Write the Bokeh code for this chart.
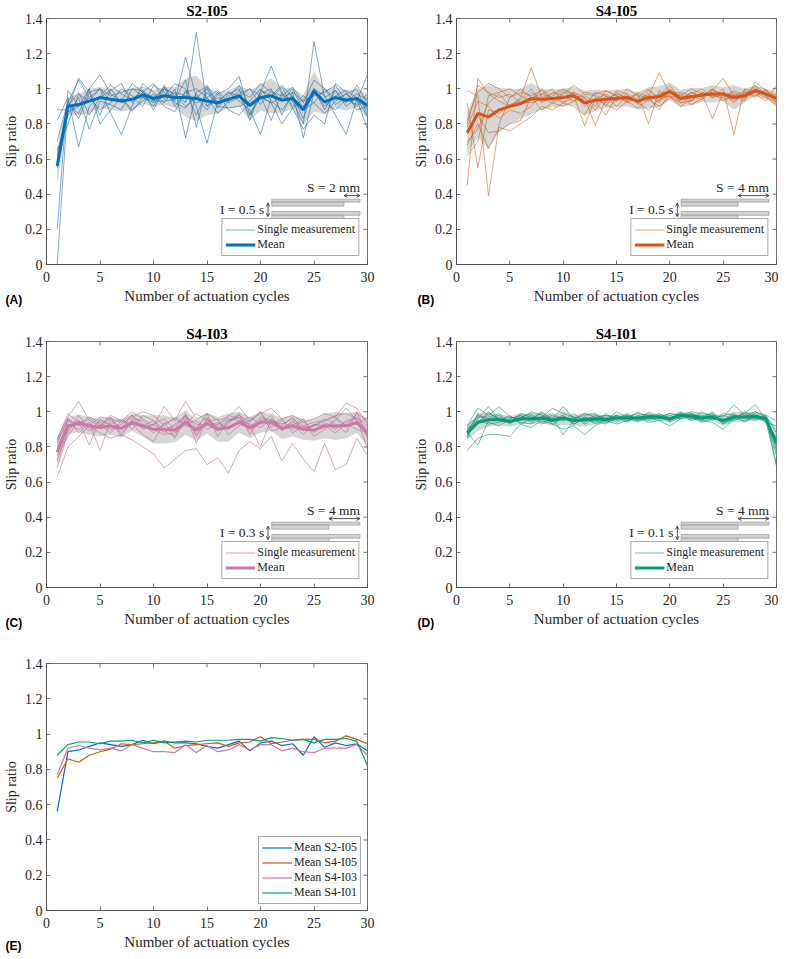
import numpy as np
from bokeh.plotting import figure
from bokeh.layouts import column, row
from bokeh.models import (Range1d, FixedTicker, PrintfTickFormatter, Title,
                          Legend, LegendItem, Label, Arrow, OpenHead)
from bokeh.embed import file_html
from bokeh.resources import INLINE

# ---------------- data ----------------
cycles = list(range(1, 31))
x_ticks = [0, 5, 10, 15, 20, 25, 30]
y_ticks = [0, 0.2, 0.4, 0.6, 0.8, 1.0, 1.2, 1.4]

titles = ["S2-I05", "S4-I05", "S4-I03", "S4-I01"]
letters = ["(A)", "(B)", "(C)", "(D)", "(E)"]
s_labels = ["S = 2 mm", "S = 4 mm", "S = 4 mm", "S = 4 mm"]
i_labels = ["I = 0.5 s", "I = 0.5 s", "I = 0.3 s", "I = 0.1 s"]
legend_single = "Single measurement"
legend_mean = "Mean"
mean_legends = ["Mean S2-I05", "Mean S4-I05", "Mean S4-I03", "Mean S4-I01"]

mean_s2_i05 = [0.56, 0.90, 0.91, 0.93, 0.95, 0.94, 0.93, 0.94, 0.965, 0.945, 0.96, 0.95, 0.95, 0.945, 0.93,
               0.92, 0.94, 0.96, 0.905, 0.95, 0.96, 0.935, 0.945, 0.88, 0.985, 0.925, 0.95, 0.935, 0.945, 0.905]
mean_s4_i05 = [0.75, 0.86, 0.84, 0.88, 0.90, 0.915, 0.945, 0.94, 0.945, 0.95, 0.96, 0.92, 0.935, 0.94, 0.945,
               0.95, 0.93, 0.95, 0.955, 0.985, 0.945, 0.955, 0.965, 0.97, 0.97, 0.95, 0.96, 0.99, 0.97, 0.945]
mean_s4_i03 = [0.77, 0.92, 0.935, 0.92, 0.91, 0.92, 0.905, 0.94, 0.92, 0.90, 0.90, 0.895, 0.94, 0.895, 0.935,
               0.90, 0.91, 0.94, 0.91, 0.94, 0.94, 0.905, 0.92, 0.90, 0.895, 0.92, 0.92, 0.92, 0.94, 0.88]
mean_s4_i01 = [0.88, 0.94, 0.955, 0.955, 0.945, 0.96, 0.96, 0.965, 0.95, 0.965, 0.95, 0.955, 0.96, 0.955, 0.965,
               0.965, 0.965, 0.97, 0.97, 0.96, 0.98, 0.975, 0.965, 0.97, 0.95, 0.97, 0.97, 0.975, 0.96, 0.82]

sd_s2_i05 = [0.10, 0.05, 0.06, 0.07, 0.06, 0.06, 0.06, 0.06, 0.05, 0.05, 0.05, 0.06, 0.11, 0.13, 0.08,
             0.06, 0.05, 0.06, 0.085, 0.075, 0.10, 0.07, 0.06, 0.085, 0.115, 0.07, 0.06, 0.06, 0.05, 0.07]
sd_s4_i05 = [0.12, 0.14, 0.18, 0.125, 0.10, 0.085, 0.09, 0.06, 0.05, 0.05, 0.05, 0.07, 0.06, 0.05, 0.05,
             0.05, 0.05, 0.06, 0.06, 0.05, 0.05, 0.05, 0.04, 0.05, 0.04, 0.07, 0.04, 0.03, 0.03, 0.04]
sd_s4_i03 = [0.08, 0.05, 0.05, 0.05, 0.05, 0.05, 0.05, 0.05, 0.06, 0.08, 0.08, 0.07, 0.07, 0.06, 0.06,
             0.07, 0.08, 0.06, 0.06, 0.06, 0.05, 0.06, 0.06, 0.06, 0.06, 0.07, 0.08, 0.07, 0.06, 0.08]
sd_s4_i01 = [0.04, 0.05, 0.04, 0.03, 0.03, 0.03, 0.03, 0.03, 0.03, 0.04, 0.03, 0.04, 0.03, 0.02, 0.02,
             0.02, 0.02, 0.02, 0.02, 0.02, 0.02, 0.02, 0.02, 0.02, 0.03, 0.03, 0.03, 0.02, 0.02, 0.07]

singles_s2_i05 = [
    [0.00, 0.92, 1.05, 0.95, 0.88, 0.92, 1.00, 0.96, 0.90, 1.02, 0.98, 0.93, 1.18, 0.95, 0.88, 0.97, 1.00, 1.07, 0.85, 0.98, 1.13, 0.97, 0.93, 0.80, 1.27, 0.95, 0.99, 0.92, 1.02, 0.92],
    [0.20, 0.99, 0.90, 1.00, 1.08, 0.97, 0.93, 1.03, 0.98, 0.95, 1.00, 0.97, 0.92, 1.32, 0.90, 0.95, 0.93, 0.99, 0.95, 1.03, 0.98, 0.96, 1.01, 0.92, 1.05, 1.00, 0.94, 0.97, 0.93, 1.08],
    [0.88, 0.88, 1.06, 0.98, 1.00, 0.86, 0.74, 0.90, 1.03, 0.98, 0.92, 1.00, 0.72, 0.98, 1.01, 0.91, 0.95, 1.02, 0.90, 0.97, 1.00, 0.85, 0.98, 0.72, 0.98, 0.90, 0.96, 0.99, 0.95, 0.88],
    [0.82, 0.95, 0.67, 0.90, 0.96, 1.02, 0.97, 0.94, 0.95, 0.92, 0.96, 1.03, 1.00, 0.90, 0.69, 0.93, 0.98, 0.93, 0.88, 0.74, 0.95, 1.01, 0.90, 0.96, 0.92, 0.86, 0.93, 0.97, 1.00, 0.85],
    [0.55, 0.90, 0.98, 0.85, 0.95, 0.99, 1.03, 0.92, 0.98, 1.03, 0.94, 0.98, 0.96, 0.92, 0.95, 0.99, 0.92, 0.95, 1.00, 0.96, 0.92, 0.95, 0.98, 0.93, 0.96, 0.98, 1.02, 0.93, 0.97, 0.94],
    [0.60, 0.85, 0.95, 0.77, 0.93, 0.91, 0.88, 1.00, 0.96, 0.90, 1.02, 0.90, 0.98, 1.00, 0.95, 0.86, 0.93, 0.97, 1.00, 0.91, 0.99, 0.93, 1.00, 0.88, 0.92, 1.00, 0.91, 0.95, 0.90, 0.95],
    [0.62, 0.91, 0.86, 1.00, 0.80, 0.88, 0.95, 0.88, 0.93, 0.97, 0.90, 0.87, 0.99, 0.85, 0.98, 0.90, 0.89, 0.90, 0.93, 1.00, 0.93, 0.88, 0.96, 0.83, 1.00, 0.88, 0.99, 0.90, 0.95, 0.84],
    [0.65, 0.80, 0.97, 0.93, 1.00, 0.96, 0.98, 1.00, 0.99, 0.93, 1.01, 0.96, 0.90, 0.95, 1.00, 0.89, 0.97, 1.00, 0.82, 0.99, 0.96, 1.02, 0.95, 0.90, 1.00, 0.92, 0.88, 0.94, 0.91, 0.97],
    [0.70, 0.93, 0.83, 0.98, 0.85, 1.00, 0.92, 0.94, 0.99, 0.88, 1.00, 0.92, 0.89, 0.97, 0.90, 0.98, 0.88, 0.85, 0.92, 0.96, 0.82, 0.98, 0.89, 0.94, 1.00, 0.96, 0.85, 0.74, 0.94, 0.77],
    [0.58, 0.87, 0.90, 0.95, 1.00, 0.93, 0.94, 0.87, 0.95, 0.93, 0.93, 0.94, 1.05, 0.78, 1.02, 0.92, 0.98, 0.96, 0.85, 0.95, 0.92, 0.80, 0.89, 0.77, 0.85, 0.80, 1.03, 0.98, 0.88, 0.90],
]
singles_s4_i05 = [
    [0.99, 0.96, 0.39, 0.80, 0.95, 1.00, 0.95, 0.97, 1.00, 0.92, 0.98, 0.95, 0.90, 0.99, 0.96, 0.92, 0.95, 1.00, 0.93, 1.00, 0.95, 0.97, 1.00, 0.95, 1.00, 0.74, 1.00, 0.98, 0.95, 0.93],
    [0.45, 1.06, 0.97, 0.93, 0.90, 0.95, 1.12, 0.95, 0.97, 1.00, 0.97, 0.92, 0.97, 0.92, 0.99, 0.97, 0.92, 0.96, 1.09, 0.97, 0.98, 0.96, 0.94, 0.99, 1.06, 0.96, 0.93, 1.04, 0.99, 0.96],
    [0.62, 0.70, 0.96, 0.98, 1.00, 0.96, 0.93, 1.00, 0.94, 0.98, 0.96, 0.79, 0.94, 0.97, 0.93, 1.00, 0.96, 0.93, 0.96, 1.02, 0.94, 0.98, 0.96, 1.00, 0.96, 0.98, 0.95, 1.00, 0.97, 0.95],
    [0.80, 1.02, 0.98, 0.95, 0.97, 0.92, 0.98, 0.93, 0.98, 0.96, 0.93, 0.95, 0.79, 0.94, 0.97, 0.95, 0.97, 0.80, 0.99, 0.95, 0.97, 0.93, 0.98, 0.95, 0.97, 0.92, 0.98, 0.95, 1.00, 0.92],
    [0.82, 0.98, 1.03, 1.00, 0.95, 0.98, 0.96, 0.99, 0.93, 0.97, 1.02, 0.97, 0.96, 0.90, 0.98, 0.94, 0.93, 0.97, 0.92, 0.99, 0.96, 1.00, 0.97, 0.83, 0.98, 0.96, 0.99, 0.97, 0.93, 1.02],
    [0.68, 0.80, 0.66, 0.78, 0.76, 0.80, 0.84, 0.90, 0.88, 0.92, 0.90, 0.85, 0.95, 0.91, 0.88, 0.93, 0.89, 0.94, 0.90, 0.95, 0.92, 0.95, 0.96, 0.98, 0.93, 0.97, 0.94, 0.99, 0.96, 0.90],
    [0.74, 0.85, 0.75, 0.76, 0.80, 0.82, 0.95, 0.88, 0.92, 0.95, 0.98, 0.93, 0.88, 0.96, 0.90, 0.96, 0.92, 0.88, 0.94, 0.96, 0.90, 0.94, 0.97, 0.96, 0.95, 0.99, 0.96, 0.99, 0.98, 0.94],
    [0.78, 0.93, 0.90, 0.83, 0.88, 0.86, 0.90, 0.97, 0.95, 0.92, 0.95, 0.96, 0.93, 0.85, 0.96, 0.93, 0.98, 0.95, 0.88, 0.98, 0.96, 0.91, 0.94, 0.99, 0.97, 0.93, 0.97, 1.01, 0.96, 0.97],
    [0.70, 0.77, 0.92, 0.97, 0.90, 0.94, 1.00, 0.92, 0.96, 0.99, 0.97, 0.90, 0.98, 0.96, 0.93, 0.97, 0.91, 0.99, 0.95, 0.96, 0.93, 0.98, 0.95, 1.00, 0.94, 0.95, 0.98, 0.96, 0.99, 0.91],
    [0.92, 0.55, 0.88, 0.86, 0.91, 0.93, 0.92, 0.94, 0.92, 0.90, 0.93, 0.98, 0.97, 0.99, 0.96, 0.93, 0.97, 0.94, 0.97, 0.99, 0.92, 0.93, 0.98, 0.96, 0.98, 0.94, 0.96, 1.02, 0.97, 0.95],
]
singles_s4_i03 = [
    [0.63, 0.80, 0.86, 0.92, 0.88, 0.85, 0.87, 0.84, 0.80, 0.76, 0.68, 0.73, 0.78, 0.79, 0.70, 0.74, 0.65, 0.78, 0.83, 0.79, 0.86, 0.72, 0.82, 0.73, 0.66, 0.82, 0.67, 0.70, 0.85, 0.75],
    [0.85, 0.97, 1.06, 0.95, 0.92, 0.98, 0.95, 1.00, 0.96, 0.92, 1.03, 0.95, 1.06, 0.96, 0.99, 0.95, 0.97, 1.03, 0.95, 0.99, 1.02, 0.96, 0.98, 0.94, 0.96, 0.99, 0.97, 1.05, 1.02, 0.93],
    [0.78, 0.95, 0.93, 0.97, 0.94, 0.90, 0.93, 0.97, 1.00, 0.98, 0.92, 0.97, 0.93, 0.99, 0.95, 0.92, 0.98, 0.96, 0.91, 0.97, 0.95, 0.93, 0.96, 0.92, 0.94, 0.95, 0.98, 0.99, 0.96, 0.90],
    [0.72, 0.90, 0.95, 0.81, 0.96, 0.92, 0.88, 0.93, 0.91, 0.93, 0.96, 0.90, 0.99, 0.82, 0.96, 0.90, 0.94, 0.98, 0.92, 0.80, 0.96, 0.91, 0.93, 0.87, 0.93, 0.91, 0.95, 1.02, 0.95, 0.86],
    [0.80, 0.93, 0.90, 0.94, 0.78, 0.95, 0.91, 0.98, 0.93, 0.88, 0.93, 0.96, 0.92, 0.90, 0.99, 0.86, 0.95, 0.97, 0.89, 0.95, 0.93, 0.96, 0.88, 0.92, 0.89, 0.93, 0.90, 0.95, 0.97, 0.92],
    [0.68, 0.88, 0.98, 0.90, 0.95, 0.93, 0.96, 0.90, 0.98, 0.95, 0.88, 0.93, 0.97, 0.93, 0.92, 0.94, 0.90, 0.94, 0.97, 0.93, 0.98, 0.89, 0.95, 0.90, 0.92, 0.96, 0.93, 0.88, 1.00, 0.85],
    [0.82, 0.96, 0.92, 0.96, 0.93, 0.88, 0.95, 0.93, 0.87, 0.83, 0.94, 0.85, 0.96, 0.87, 0.94, 0.96, 0.87, 0.92, 0.95, 1.00, 0.91, 0.95, 0.90, 0.95, 0.86, 0.90, 0.96, 0.92, 0.93, 0.97],
    [0.75, 0.86, 0.95, 0.92, 0.97, 0.96, 0.90, 0.95, 0.92, 0.95, 0.90, 0.92, 0.98, 0.91, 0.97, 0.89, 0.93, 0.99, 0.87, 0.96, 0.94, 0.92, 0.97, 0.89, 0.93, 0.92, 0.88, 0.93, 0.90, 0.88],
    [0.84, 0.99, 0.94, 0.89, 0.92, 0.97, 0.86, 0.96, 0.95, 0.90, 0.87, 0.88, 0.93, 0.95, 0.90, 0.93, 0.96, 0.95, 0.93, 0.91, 0.96, 0.90, 0.92, 0.96, 0.88, 0.94, 0.91, 0.94, 0.96, 0.79],
    [0.83, 0.96, 0.88, 0.93, 0.91, 0.96, 0.94, 0.98, 0.90, 0.93, 0.89, 0.86, 0.98, 0.86, 0.96, 0.91, 0.95, 0.98, 0.94, 1.00, 0.89, 0.91, 0.94, 0.91, 0.92, 0.95, 0.97, 0.92, 0.99, 0.95],
]
singles_s4_i01 = [
    [0.78, 0.85, 0.87, 0.87, 0.86, 0.93, 0.91, 0.95, 0.93, 0.90, 0.92, 0.87, 0.92, 0.95, 0.93, 0.95, 0.97, 0.94, 0.95, 0.92, 0.96, 0.98, 0.95, 0.94, 0.90, 0.96, 0.95, 0.97, 0.95, 0.69],
    [0.92, 1.02, 0.98, 1.03, 0.97, 0.96, 1.00, 0.98, 0.96, 1.03, 0.96, 0.98, 0.99, 0.95, 1.00, 0.97, 0.99, 0.98, 0.97, 0.99, 0.98, 1.00, 0.99, 0.98, 0.97, 1.04, 0.98, 1.00, 0.97, 0.90],
    [0.88, 0.81, 0.95, 0.97, 0.94, 0.99, 0.97, 0.96, 0.98, 0.95, 0.99, 0.94, 0.97, 0.98, 0.96, 0.99, 0.95, 0.97, 0.99, 0.96, 1.00, 0.97, 0.95, 0.98, 0.93, 0.97, 0.99, 1.04, 0.96, 0.78],
    [0.90, 0.96, 1.03, 0.95, 0.98, 0.93, 0.96, 1.00, 0.95, 0.97, 0.93, 0.96, 0.95, 0.93, 0.98, 0.96, 1.00, 0.96, 0.98, 0.95, 0.99, 0.96, 1.00, 0.97, 0.95, 0.98, 0.96, 0.99, 0.95, 0.85],
    [0.86, 0.95, 0.93, 0.94, 0.96, 0.98, 0.94, 0.97, 0.99, 0.95, 0.97, 0.93, 0.96, 0.97, 0.94, 0.97, 0.96, 0.99, 0.96, 0.97, 0.97, 0.99, 0.96, 0.97, 0.96, 0.95, 0.98, 0.96, 0.98, 0.88],
    [0.89, 0.98, 0.96, 0.98, 0.93, 0.97, 0.99, 0.94, 0.96, 0.98, 0.94, 0.97, 0.93, 0.96, 0.98, 0.95, 0.97, 0.95, 0.97, 0.99, 0.98, 0.95, 0.97, 0.99, 0.94, 0.97, 0.97, 0.95, 0.97, 0.80],
    [0.91, 0.93, 0.99, 0.96, 0.95, 0.95, 0.96, 0.99, 0.93, 0.96, 0.96, 0.99, 0.97, 0.94, 0.96, 0.98, 0.94, 0.97, 0.95, 0.96, 0.99, 0.97, 0.94, 0.96, 0.98, 0.96, 1.00, 0.97, 0.96, 0.75],
    [0.85, 0.99, 0.94, 0.92, 0.96, 0.94, 0.93, 0.96, 0.97, 0.87, 0.95, 0.95, 0.98, 0.96, 0.97, 0.94, 0.98, 0.96, 0.98, 0.94, 0.97, 0.98, 0.98, 0.96, 0.95, 0.99, 0.94, 0.98, 0.94, 0.92],
    [0.92, 0.97, 0.97, 0.99, 0.94, 0.98, 0.95, 0.97, 1.02, 0.99, 0.97, 0.96, 0.94, 0.99, 0.95, 0.98, 0.96, 0.98, 0.96, 0.98, 0.96, 0.99, 0.97, 0.95, 0.99, 0.98, 0.97, 1.00, 0.98, 0.95],
    [0.87, 0.94, 1.00, 0.95, 0.97, 0.96, 0.98, 0.93, 0.95, 0.97, 0.93, 0.97, 0.96, 0.98, 0.97, 0.96, 0.95, 1.00, 0.97, 0.95, 0.98, 0.96, 0.96, 1.00, 0.93, 0.96, 0.99, 0.96, 0.97, 0.70],
]

means = [mean_s2_i05, mean_s4_i05, mean_s4_i03, mean_s4_i01]
sds = [sd_s2_i05, sd_s4_i05, sd_s4_i03, sd_s4_i01]
singles = [singles_s2_i05, singles_s4_i05, singles_s4_i03, singles_s4_i01]
stroke_mm = [2, 4, 4, 4]

# ---------------- styles ----------------
SERIF = "Liberation Serif"
SANS = "Liberation Sans"
AX = "#4d4d4d"
TXT = "#262626"
mean_colors = ["#0072BD", "#D95319", "#CC79A7", "#009E73"]
single_colors = ["#2b6f9e", "#c4692c", "#b86a92", "#0f9270"]
BAND = "#d6d6d6"


def make_fig(title, w, h, bl, br, bt, bb):
    kw = {}
    if title is not None:
        kw["title"] = title
    p = figure(width=w, height=h, x_range=Range1d(0, 30), y_range=Range1d(0, 1.4),
               output_backend="svg", toolbar_location=None,
               min_border_left=bl, min_border_right=br, min_border_top=bt, min_border_bottom=bb,
               **kw)
    if title is not None:
        p.title.text_font = SERIF
        p.title.text_font_size = "15px"
        p.title.text_font_style = "bold"
        p.title.text_color = "#000000"
        p.title.align = "center"
        p.title.standoff = 0
        p.title.offset = 0
    p.xgrid.visible = False
    p.ygrid.visible = False
    p.outline_line_color = AX
    p.outline_line_width = 0.8
    p.background_fill_color = "white"

    xa = p.xaxis[0]
    xa.ticker = FixedTicker(ticks=x_ticks)
    xa.axis_label = "Number of actuation cycles"
    ya = p.yaxis[0]
    ya.ticker = FixedTicker(ticks=y_ticks)
    ya.formatter = PrintfTickFormatter(format="%g")
    ya.axis_label = "Slip ratio"
    for ax in (xa, ya):
        ax.minor_tick_line_color = None
        ax.major_tick_in = 4
        ax.major_tick_out = 0
        ax.major_label_standoff = 4
        ax.axis_line_color = AX
        ax.axis_line_width = 0.8
        ax.major_tick_line_color = AX
        ax.major_tick_line_width = 0.8
        ax.major_label_text_font = SERIF
        ax.major_label_text_font_size = "14px"
        ax.major_label_text_color = TXT
        ax.axis_label_text_font = SERIF
        ax.axis_label_text_font_style = "normal"
        ax.axis_label_text_color = TXT
        ax.axis_label_standoff = 3
    xa.major_label_standoff = 7
    xa.axis_label_text_font_size = "15px"
    ya.axis_label_text_font_size = "14px"

    # inward ticks on the right and top edges of the box
    p.ray(x=[30] * len(y_ticks), y=y_ticks, length=4, length_units="screen", angle=np.pi,
          line_color=AX, line_width=0.8)
    p.ray(x=x_ticks, y=[1.4] * len(x_ticks), length=4, length_units="screen", angle=-np.pi / 2,
          line_color=AX, line_width=0.8)
    return p


def add_letter(p, text, bl):
    t = Title(text=text, align="left", vertical_align="top", text_font=SANS,
              text_font_style="bold", text_font_size="12px", text_color="#000000",
              offset=-(bl - 3), standoff=-28)
    p.add_layout(t, "below")


def add_schematic(p, mm, s_label, i_label):
    x0, x_long = 21.05, 29.3
    x_short = 27.8 if mm == 2 else 26.4
    p.quad(left=[x0, x0, x0, x0], right=[x_long, x_short, x_long, x_short],
           top=[0.372, 0.355, 0.302, 0.280], bottom=[0.355, 0.332, 0.280, 0.255],
           fill_color="#d2d2d2", line_color="#8c8c8c", line_width=0.6)
    ink = "#262626"
    p.add_layout(Arrow(start=OpenHead(size=3.5, line_width=0.8, line_color=ink),
                       end=OpenHead(size=3.5, line_width=0.8, line_color=ink),
                       x_start=x_short, y_start=0.392, x_end=x_long, y_end=0.392,
                       line_width=0.8, line_color=ink))
    p.add_layout(Arrow(start=OpenHead(size=3.5, line_width=0.8, line_color=ink),
                       end=OpenHead(size=3.5, line_width=0.8, line_color=ink),
                       x_start=20.7, y_start=0.350, x_end=20.7, y_end=0.272,
                       line_width=0.8, line_color=ink))
    p.add_layout(Label(x=x_long, y=0.437, text=s_label, text_font=SERIF, text_font_size="13.5px",
                       text_color=TXT, text_align="right", text_baseline="middle"))
    p.add_layout(Label(x=20.35, y=0.313, text=i_label, text_font=SERIF, text_font_size="13.5px",
                       text_color=TXT, text_align="right", text_baseline="middle"))


def style_legend(leg, row_h, margin):
    leg.label_text_font = SERIF
    leg.label_text_font_size = "12px"
    leg.label_text_color = TXT
    leg.label_height = row_h
    leg.glyph_height = row_h
    leg.glyph_width = 30
    leg.label_standoff = 2
    leg.spacing = 0
    leg.padding = 3
    leg.margin = margin
    leg.border_line_color = "#555555"
    leg.border_line_width = 0.8
    leg.background_fill_color = "white"
    leg.background_fill_alpha = 1.0


# geometry (pixels)
WA, WB = 392, 386
BLA, BRA = 44, 25
BLB, BRB = 64, 2
BT, FH = 17, 247
BB12, BB3 = 59, 43
H12 = BT + FH + BB12
H3 = BT + FH + BB3


def build_panel(k, w, h, bl, br, bt, bb):
    p = make_fig(titles[k], w, h, bl, br, bt, bb)
    m = np.array(means[k])
    s = np.array(sds[k])
    p.varea(x=cycles, y1=m - s, y2=m + s, fill_color=BAND, fill_alpha=1.0)
    single_rs = []
    for series in singles[k]:
        r = p.line(cycles, series, line_color=single_colors[k], line_width=0.7, line_alpha=0.85)
        single_rs.append(r)
    rm = p.line(cycles, means[k], line_color=mean_colors[k], line_width=3)
    add_schematic(p, stroke_mm[k], s_labels[k], i_labels[k])
    leg = Legend(items=[LegendItem(label=legend_single, renderers=[single_rs[0]]),
                        LegendItem(label=legend_mean, renderers=[rm])],
                 location="bottom_right")
    style_legend(leg, 13, 8)
    p.add_layout(leg)
    add_letter(p, letters[k], bl if bl < 50 else 42)
    return p


pA = build_panel(0, WA, H12, BLA, BRA, BT, BB12)
pB = build_panel(1, WB, H12, BLB, BRB, BT, BB12)
pC = build_panel(2, WA, H12, BLA, BRA, BT, BB12)
pD = build_panel(3, WB, H12, BLB, BRB, BT, BB12)

pE = make_fig(None, WA, H3, BLA, BRA, BT, BB3)
items = []
for k in range(4):
    r = pE.line(cycles, means[k], line_color=mean_colors[k], line_width=1.2)
    items.append(LegendItem(label=mean_legends[k], renderers=[r]))
legE = Legend(items=items, location="bottom_right")
style_legend(legE, 15, 6)
pE.add_layout(legE)
add_letter(pE, letters[4], BLA)

layout = column(row(pA, pB), row(pC, pD), row(pE))
open("out.html", "w").write(file_html(layout, INLINE))
